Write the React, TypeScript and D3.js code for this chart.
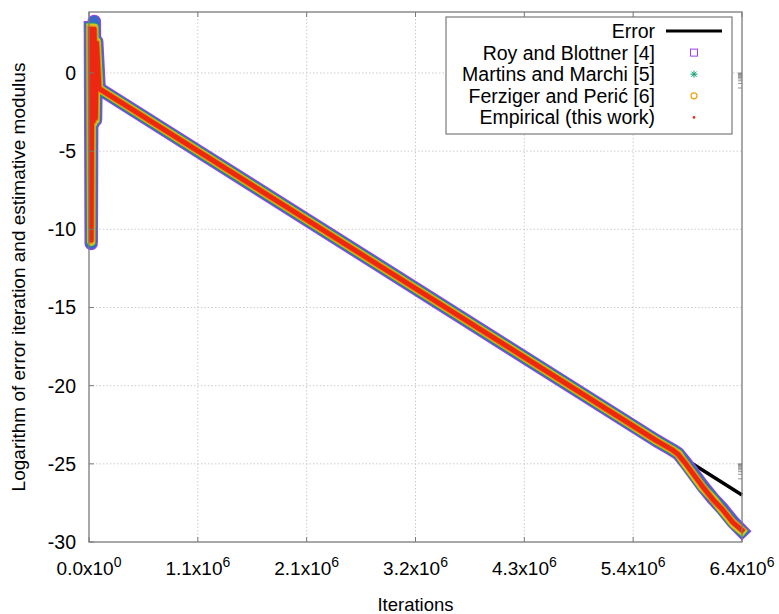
import React from "react";
import * as d3 from "d3";

// ---------- data ----------
const xTickValues = [0, 1075000, 2150000, 3225000, 4300000, 5375000, 6450000];
const xTickMantissa = ["0.0", "1.1", "2.1", "3.2", "4.3", "5.4", "6.4"];
const xTickExponent = ["0", "6", "6", "6", "6", "6", "6"];
const yTickValues = [-30, -25, -20, -15, -10, -5, 0];
const y2CombValues = [0, -25];

const errorIter = [0, 100000, 6450000];
const errorVal = [0.3, -1.0, -27.0];

const estIter = [14000, 22000, 30000, 42000, 52000, 64000, 76000, 100000, 5600000, 5760000, 5820000, 5900000, 5980000, 6060000, 6160000, 6260000, 6360000, 6450000];
const royVal = [2.9, -10.9, 2.9, -3.2, 3.3, -3.0, 2.0, -1.0, -23.5, -24.1, -24.35, -25.0, -25.7, -26.4, -27.2, -27.9, -28.7, -29.3];
const martinsVal = [2.9, -10.8, 2.9, -3.2, 2.9, -3.0, 2.0, -1.0, -23.5, -24.1, -24.35, -25.1, -25.8, -26.5, -27.2, -28.0, -28.8, -29.3];
const ferzigerVal = [2.8, -10.7, 2.8, -3.1, 2.8, -2.9, 1.9, -1.0, -23.5, -24.1, -24.4, -25.0, -25.7, -26.4, -27.3, -27.9, -28.7, -29.2];
const empiricalVal = [2.8, -10.7, 2.8, -3.1, 2.8, -2.9, 1.9, -1.0, -23.5, -24.1, -24.4, -25.05, -25.75, -26.45, -27.25, -27.95, -28.75, -29.25];

const legendLabels = ["Error", "Roy and Blottner [4]", "Martins and Marchi [5]", "Ferziger and Perić [6]", "Empirical (this work)"];

// ---------- styles ----------
const W = 779, H = 614;
const M = { left: 89, right: 742, top: 12, bottom: 542 };
const FONT = "'Liberation Sans', Arial, sans-serif";
const FRAME = "#7a7a7a";

const estSeries = [
  { vals: royVal, layers: [{ c: "#a040f0", w: 13.5 }, { c: "#3a68c8", w: 11.5 }] },
  { vals: martinsVal, layers: [{ c: "#0ea06c", w: 10 }, { c: "#d8c21a", w: 8.3 }] },
  { vals: ferzigerVal, layers: [{ c: "#f08a10", w: 6.8 }] },
  { vals: empiricalVal, layers: [{ c: "#ec2812", w: 4.8 }] },
];

export default function App() {
  const x = d3.scaleLinear().domain([0, 6450000]).range([M.left, M.right]);
  const y = d3.scaleLinear().domain([-30, 3.9]).range([M.bottom, M.top]);
  const line = d3.line<[number, number]>().x((d) => x(d[0])).y((d) => y(d[1]));

  const errPts = errorIter.map((t, i) => [t, errorVal[i]] as [number, number]);

  const legX = 446, legY = 17, legW = 286, legH = 117;
  const rowY = (k: number) => 31 + k * 21.6;
  const textX = 655, markX = 694;

  return (
    <svg width={W} height={H} style={{ display: "block", position: "absolute", left: 0, top: 0 }} fontFamily={FONT}>
      <rect x={0} y={0} width={W} height={H} fill="#fff" />
      {/* grid */}
      {xTickValues.slice(1, -1).map((v, i) => (
        <line key={"gx" + i} x1={x(v)} x2={x(v)} y1={M.top} y2={M.bottom} stroke="#cdcdcd" strokeWidth={1} strokeDasharray="1.5,2" />
      ))}
      {yTickValues.slice(1).map((v, i) => (
        <line key={"gy" + i} x1={M.left} x2={M.right} y1={y(v)} y2={y(v)} stroke="#cdcdcd" strokeWidth={1} strokeDasharray="1.5,2" />
      ))}
      {/* error */}
      <path d={line(errPts) || ""} fill="none" stroke="#000" strokeWidth={3.5} />
      {/* estimators */}
      {estSeries.map((s, si) =>
        s.layers.map((l, li) => (
          <path
            key={si + "-" + li}
            d={line(estIter.map((t, i) => [t, s.vals[i]] as [number, number])) || ""}
            fill="none"
            stroke={l.c}
            strokeWidth={l.w}
            strokeLinejoin="round"
            strokeLinecap="square"
          />
        ))
      )}
      {/* frame */}
      <rect x={M.left} y={M.top} width={M.right - M.left} height={M.bottom - M.top} fill="none" stroke={FRAME} strokeWidth={1.3} />
      {xTickValues.map((v, i) => (
        <g key={"xt" + i}>
          <line x1={x(v)} x2={x(v)} y1={M.bottom} y2={M.bottom - 5} stroke={FRAME} />
          <line x1={x(v)} x2={x(v)} y1={M.top} y2={M.top + 5} stroke={FRAME} />
          <text x={x(v)} y={575} textAnchor="middle" fontSize={19} fill="#000">
            <tspan>{xTickMantissa[i]}x10</tspan>
            <tspan dy={-8} fontSize={14}>{xTickExponent[i]}</tspan>
          </text>
        </g>
      ))}
      {yTickValues.map((v, i) => (
        <g key={"yt" + i}>
          <line x1={M.left} x2={M.left + 5} y1={y(v)} y2={y(v)} stroke={FRAME} />
          <text x={76} y={y(v) + 7} textAnchor="end" fontSize={19.5} fill="#000">{v}</text>
        </g>
      ))}
      {y2CombValues.map((v, i) => (
        <g key={"c" + i}>
          {[1, 2, 3, 4, 5, 6, 7, 8, 9, 10].map((k) => (
            <line key={k} x1={M.right - 4} x2={M.right} y1={y(v) + 15 * (1 - Math.log10(k))} y2={y(v) + 15 * (1 - Math.log10(k))} stroke={FRAME} strokeWidth={0.8} />
          ))}
        </g>
      ))}
      {/* axis titles */}
      <text x={(M.left + M.right) / 2} y={611} textAnchor="middle" fontSize={18.5} fill="#000">Iterations</text>
      <text transform={`translate(25,${(M.top + M.bottom) / 2}) rotate(-90)`} textAnchor="middle" fontSize={19} fill="#000">
        Logarithm of error iteration and estimative modulus
      </text>
      {/* legend */}
      <rect x={legX} y={legY} width={legW} height={legH} fill="#fff" stroke={FRAME} strokeWidth={1.2} />
      {legendLabels.map((t, k) => (
        <text key={t} x={textX} y={rowY(k) + 7} textAnchor="end" fontSize={19.5} fill="#000">{t}</text>
      ))}
      <line x1={666} x2={722} y1={rowY(0)} y2={rowY(0)} stroke="#000" strokeWidth={3} />
      <rect x={markX - 3.5} y={rowY(1) - 3.5} width={7} height={7} fill="none" stroke="#a040f0" strokeWidth={1} />
      <g stroke="#0ea06c" strokeWidth={1}>
        <line x1={markX - 3.5} x2={markX + 3.5} y1={rowY(2)} y2={rowY(2)} />
        <line x1={markX} x2={markX} y1={rowY(2) - 3.5} y2={rowY(2) + 3.5} />
        <line x1={markX - 2.6} x2={markX + 2.6} y1={rowY(2) - 2.6} y2={rowY(2) + 2.6} />
        <line x1={markX - 2.6} x2={markX + 2.6} y1={rowY(2) + 2.6} y2={rowY(2) - 2.6} />
      </g>
      <circle cx={markX} cy={rowY(3)} r={3} fill="none" stroke="#f0a010" strokeWidth={1.2} />
      <circle cx={markX} cy={rowY(4)} r={1.3} fill="#ec2812" />
    </svg>
  );
}
